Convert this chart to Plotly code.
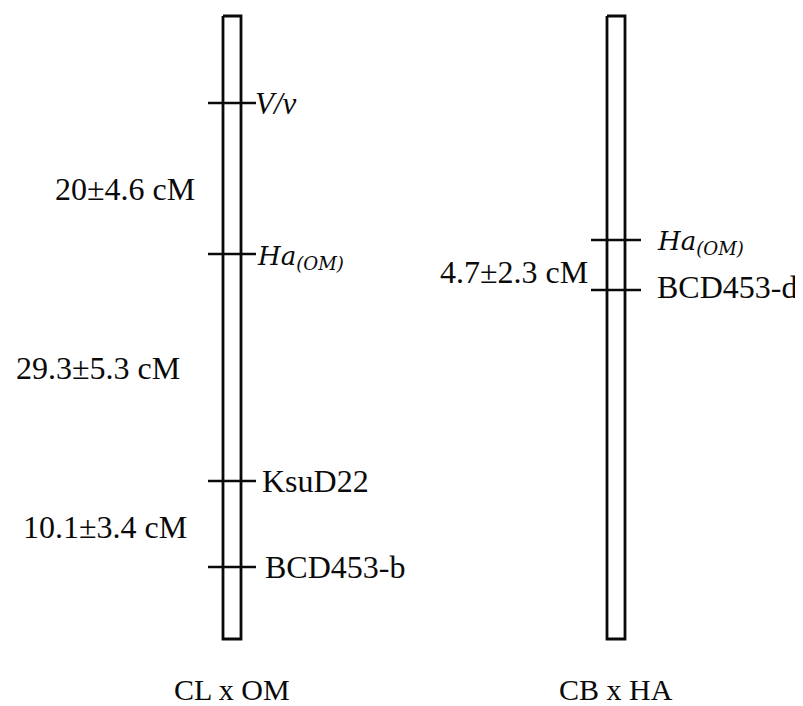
import plotly.graph_objects as go

# ---- data ----
map_titles = ["CL x OM", "CB x HA"]
chrom_span = [16, 639]            # chromosome top / bottom along the map axis

cl_markers = ["<i>V/v</i>", "<i>Ha<sub>(OM)</sub></i>", "KsuD22", "BCD453-b"]
cl_marker_pos = [103, 254, 481, 567]
cl_intervals = ["20±4.6 cM", "29.3±5.3 cM", "10.1±3.4 cM"]

cb_markers = ["<i>Ha<sub>(OM)</sub></i>", "BCD453-d"]
cb_marker_pos = [240, 290]
cb_intervals = ["4.7±2.3 cM"]

# ---- layout constants ----
W, H = 803, 706
OFF = 8   # page body margin compensation
centers = [232, 616]
half_w = 9
tick_half = [24, 25]
SERIF = "Liberation Serif, Times New Roman, serif"
ITAL = "DejaVu Serif, serif"
FS = 32
INK = "#0a0a0a"

fig = go.Figure()

def chrom(cx):
    x0, x1 = cx - half_w, cx + half_w
    y0, y1 = chrom_span
    fig.add_trace(go.Scatter(x=[x0, x1, x1, x0, x0], y=[y0, y0, y1, y1, y0],
                             mode="lines", line=dict(color=INK, width=2.8),
                             hoverinfo="skip", showlegend=False))

def ticks(cx, th, pos):
    xs, ys = [], []
    for p in pos:
        xs += [cx - th, cx + th, None]
        ys += [p, p, None]
    fig.add_trace(go.Scatter(x=xs, y=ys, mode="lines",
                             line=dict(color=INK, width=2.4),
                             hoverinfo="skip", showlegend=False))

chrom(centers[0]); chrom(centers[1])
ticks(centers[0], tick_half[0], cl_marker_pos)
ticks(centers[1], tick_half[1], cb_marker_pos)

ann = []
def marker_font(name):
    if "Ha" in name:
        return dict(family=ITAL, size=26, color=INK)
    if "V/v" in name:
        return dict(family=SERIF, size=31, color=INK)
    return dict(family=SERIF, size=FS, color=INK)

# left map marker labels
cl_lab_x = [253, 255, 260, 263]
for name, p, lx in zip(cl_markers, cl_marker_pos, cl_lab_x):
    ann.append(dict(x=lx, y=p, text=name, xanchor="left", yanchor="middle",
                    showarrow=False, yshift=-3 if "Ha" in name else 0,
                    font=marker_font(name)))
# right map marker labels
cb_lab_x = [655, 655]
for name, p, lx in zip(cb_markers, cb_marker_pos, cb_lab_x):
    ann.append(dict(x=lx, y=p, text=name, xanchor="left", yanchor="middle",
                    showarrow=False, yshift=-2 if "Ha" in name else 3,
                    font=marker_font(name)))

# interval labels
cl_int_x = [197, 182, 189]
cl_int_dy = [-10, 0, -3]
for i, t in enumerate(cl_intervals):
    mid = (cl_marker_pos[i] + cl_marker_pos[i + 1]) / 2
    ann.append(dict(x=cl_int_x[i], y=mid, text=t, xanchor="right", yanchor="middle",
                    showarrow=False, yshift=cl_int_dy[i],
                    font=dict(family=SERIF, size=FS, color=INK)))
for i, t in enumerate(cb_intervals):
    mid = (cb_marker_pos[i] + cb_marker_pos[i + 1]) / 2
    ann.append(dict(x=590, y=mid, text=t, xanchor="right", yanchor="middle",
                    showarrow=False, yshift=-7,
                    font=dict(family=SERIF, size=FS, color=INK)))

# titles
for cx, t in zip(centers, map_titles):
    ann.append(dict(x=cx, y=689, text=t, xanchor="center", yanchor="middle",
                    showarrow=False, font=dict(family=SERIF, size=30, color=INK)))

fig.update_layout(width=W, height=H, margin=dict(l=0, r=0, t=0, b=0),
                  paper_bgcolor="white", plot_bgcolor="white",
                  xaxis=dict(range=[OFF, W + OFF], visible=False, fixedrange=True),
                  yaxis=dict(range=[H + OFF, OFF], visible=False, fixedrange=True),
                  annotations=ann, showlegend=False)
fig.write_html("out.html")
